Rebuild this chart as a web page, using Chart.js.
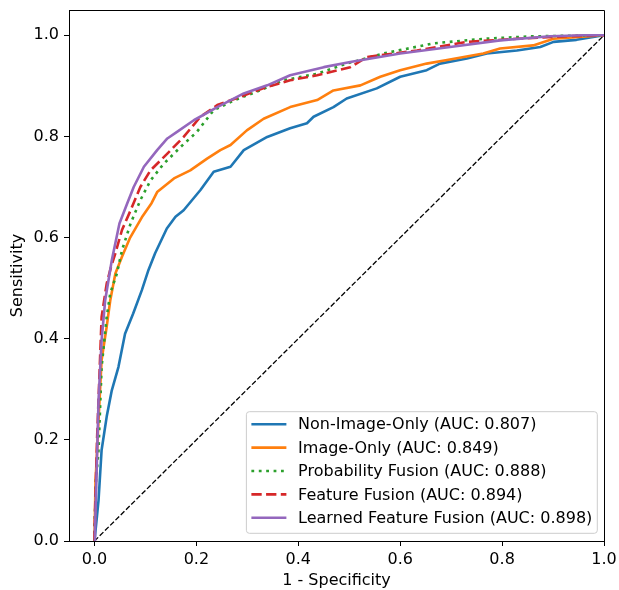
<!DOCTYPE html>
<html><head><meta charset="utf-8">
<script src="https://cdn.jsdelivr.net/npm/chart.js@4/dist/chart.umd.min.js"></script>
<style>html,body{margin:0;padding:0;background:#fff;}#wrap{width:619px;height:590px;}</style>
</head><body><div id="wrap"><canvas id="c" width="619" height="590"></canvas></div>
<script>
const seriesLabels = [
  'Non-Image-Only (AUC: 0.807)',
  'Image-Only (AUC: 0.849)',
  'Probability Fusion (AUC: 0.888)',
  'Feature Fusion (AUC: 0.894)',
  'Learned Feature Fusion (AUC: 0.898)'
];
const tickValues = [0.0, 0.2, 0.4, 0.6, 0.8, 1.0];
const xAxisTitle = '1 - Specificity';
const yAxisTitle = 'Sensitivity';

const fprNonImage = [0,0.002,0.005,0.008,0.014,0.024,0.034,0.047,0.060,0.076,0.093,0.106,0.119,0.142,0.159,0.175,0.208,0.234,0.267,0.293,0.339,0.384,0.417,0.430,0.469,0.495,0.554,0.600,0.652,0.678,0.731,0.770,0.829,0.875,0.901,0.946,1.0];
const tprNonImage = [0,0.020,0.050,0.081,0.180,0.246,0.298,0.344,0.410,0.450,0.496,0.536,0.569,0.618,0.641,0.654,0.694,0.730,0.740,0.773,0.799,0.816,0.826,0.839,0.858,0.875,0.895,0.918,0.931,0.944,0.954,0.964,0.970,0.977,0.987,0.991,1.0];

const fprImage = [0,0.002,0.008,0.014,0.024,0.031,0.041,0.054,0.070,0.093,0.112,0.123,0.156,0.188,0.221,0.247,0.267,0.299,0.332,0.384,0.437,0.469,0.522,0.561,0.600,0.652,0.692,0.763,0.796,0.861,0.901,1.0];
const tprImage = [0,0.115,0.240,0.358,0.424,0.476,0.529,0.562,0.600,0.640,0.668,0.690,0.717,0.733,0.756,0.773,0.783,0.812,0.835,0.858,0.872,0.891,0.901,0.918,0.931,0.944,0.951,0.964,0.974,0.980,0.993,1.0];

const fprProbFusion = [0,0.0,0.003,0.008,0.014,0.024,0.031,0.044,0.054,0.071,0.090,0.110,0.136,0.169,0.201,0.234,0.273,0.325,0.371,0.437,0.495,0.567,0.665,0.763,0.861,1.0];
const tprProbFusion = [0,0.016,0.120,0.180,0.344,0.443,0.490,0.529,0.575,0.628,0.674,0.713,0.746,0.779,0.809,0.852,0.871,0.891,0.911,0.924,0.944,0.964,0.984,0.993,0.998,1.0];

const fprFeatFusion = [0,0.0,0.005,0.014,0.024,0.032,0.041,0.054,0.071,0.090,0.110,0.143,0.175,0.208,0.241,0.293,0.339,0.384,0.437,0.502,0.535,0.633,0.731,0.829,0.927,1.0];
const tprFeatFusion = [0,0.016,0.200,0.443,0.509,0.540,0.569,0.615,0.654,0.700,0.733,0.766,0.799,0.839,0.862,0.881,0.898,0.911,0.921,0.937,0.957,0.970,0.987,0.993,0.998,1.0];

const fprLearned = [0,0.001,0.0045,0.008,0.014,0.021,0.034,0.049,0.064,0.077,0.097,0.123,0.143,0.162,0.195,0.241,0.293,0.339,0.384,0.450,0.502,0.600,0.698,0.796,0.894,0.959,1.0];
const tprLearned = [0,0.022,0.147,0.279,0.397,0.476,0.555,0.628,0.667,0.700,0.740,0.773,0.796,0.809,0.832,0.858,0.885,0.901,0.921,0.937,0.947,0.964,0.977,0.990,0.998,1.0,1.0];

const chanceFpr = [0, 1];
const chanceTpr = [0, 1];

const colors = ['#1f77b4', '#ff7f0e', '#2ca02c', '#d62728', '#9467bd'];
const dashes = [[], [], [2.8, 4.6], [10.3, 4.4], []];

function pts(xs, ys) { return xs.map((x, i) => ({x: x, y: ys[i]})); }
const seriesX = [fprNonImage, fprImage, fprProbFusion, fprFeatFusion, fprLearned];
const seriesY = [tprNonImage, tprImage, tprProbFusion, tprFeatFusion, tprLearned];

const datasets = seriesX.map((xs, i) => ({
  label: seriesLabels[i],
  data: pts(xs, seriesY[i]),
  borderColor: colors[i],
  backgroundColor: colors[i],
  borderWidth: 2.6,
  borderDash: dashes[i],
  borderCapStyle: 'butt',
  borderJoinStyle: 'round',
  pointRadius: 0,
  tension: 0,
  fill: false,
  order: 5 - i,
  inLegend: true
}));
datasets.push({
  label: 'chance',
  data: pts(chanceFpr, chanceTpr),
  borderColor: '#000000',
  borderWidth: 1.3,
  borderDash: [5.2, 2.2],
  pointRadius: 0,
  fill: false,
  order: 6,
  inLegend: false
});

const FONT = '"DejaVu Sans", sans-serif';
const FS = 16;

const framePlugin = {
  id: 'frame',
  afterDatasetsDraw(chart) {
    const ctx = chart.ctx, a = chart.chartArea;
    ctx.save();
    ctx.strokeStyle = '#000';
    ctx.lineWidth = 1;
    ctx.beginPath();
    ctx.moveTo(Math.round(a.left) + 0.5, Math.round(a.top) + 0.5);
    ctx.lineTo(Math.round(a.right) + 0.5, Math.round(a.top) + 0.5);
    ctx.lineTo(Math.round(a.right) + 0.5, Math.round(a.bottom) + 0.5);
    ctx.stroke();
    ctx.restore();
  }
};

const legendPlugin = {
  id: 'boxLegend',
  afterDraw(chart) {
    const ctx = chart.ctx, a = chart.chartArea;
    const items = chart.data.datasets.filter(d => d.inLegend);
    ctx.save();
    ctx.font = FS + 'px ' + FONT;
    let maxW = 0;
    items.forEach(d => { maxW = Math.max(maxW, ctx.measureText(d.label).width); });
    const right = a.right - 6.7;
    const bottom = a.bottom - 7.7;
    const top = bottom - 121.6;
    const textOff = 51.7;
    const left = right - (textOff + maxW + 5);
    ctx.beginPath();
    ctx.roundRect(left, top, right - left, bottom - top, 3);
    ctx.fillStyle = 'rgba(255,255,255,0.8)';
    ctx.fill();
    ctx.strokeStyle = '#cccccc';
    ctx.lineWidth = 1;
    ctx.stroke();
    items.forEach((d, i) => {
      const y = top + 12.6 + i * 23.35;
      ctx.beginPath();
      ctx.setLineDash(d.borderDash || []);
      ctx.lineCap = 'butt';
      ctx.strokeStyle = d.borderColor;
      ctx.lineWidth = d.borderWidth;
      ctx.moveTo(left + 5, y);
      ctx.lineTo(left + 40, y);
      ctx.stroke();
      ctx.setLineDash([]);
      ctx.fillStyle = '#000';
      ctx.textBaseline = 'middle';
      ctx.textAlign = 'left';
      ctx.fillText(d.label, left + textOff, y + 1);
    });
    ctx.restore();
  }
};

function fixedTicks(scale) {
  scale.ticks = tickValues.map(v => ({value: v}));
}

new Chart(document.getElementById('c'), {
  type: 'line',
  data: {datasets: datasets},
  plugins: [framePlugin, legendPlugin],
  options: {
    responsive: false,
    devicePixelRatio: 1,
    animation: false,
    layout: {padding: {left: 0, top: 10, right: 15, bottom: 0}},
    plugins: {legend: {display: false}, tooltip: {enabled: false}},
    scales: {
      x: {
        type: 'linear',
        min: -0.05, max: 1.0,
        afterBuildTicks: fixedTicks,
        afterFit(s) { s.height = 49; s.paddingLeft = 0; s.paddingRight = 0; },
        grid: {display: true, drawOnChartArea: false, drawTicks: true, tickLength: 5, tickColor: '#000', tickWidth: 1},
        border: {display: true, color: '#000', width: 1},
        ticks: {color: '#000', font: {family: FONT, size: FS}, padding: 4, maxRotation: 0,
          callback: v => Number(v).toFixed(1)},
        title: {display: true, text: xAxisTitle, color: '#000', font: {family: FONT, size: FS}, padding: {top: 0, bottom: 0}}
      },
      y: {
        type: 'linear',
        min: 0, max: 1.05,
        afterBuildTicks: fixedTicks,
        afterFit(s) { s.width = 69; s.paddingTop = 0; s.paddingBottom = 0; },
        grid: {display: true, drawOnChartArea: false, drawTicks: true, tickLength: 5, tickColor: '#000', tickWidth: 1},
        border: {display: true, color: '#000', width: 1},
        ticks: {color: '#000', font: {family: FONT, size: FS}, padding: 5,
          callback: v => Number(v).toFixed(1)},
        title: {display: true, text: yAxisTitle, color: '#000', font: {family: FONT, size: FS}, padding: {top: 8, bottom: 0}}
      }
    }
  }
});
</script>
</body></html>
